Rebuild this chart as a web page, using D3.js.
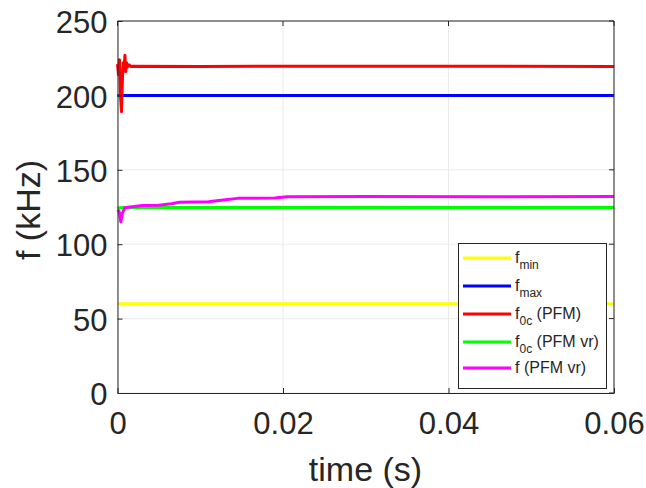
<!DOCTYPE html>
<html><head><meta charset="utf-8">
<script src="https://cdn.jsdelivr.net/npm/d3@7/dist/d3.min.js"></script>
<style>body{margin:0;background:#fff;}text{font-family:"Liberation Sans",Arial,sans-serif;}</style>
</head><body>
<svg id="c" width="646" height="488"></svg>
<script>
const xTicks = [0, 0.02, 0.04, 0.06];
const yTicks = [0, 50, 100, 150, 200, 250];
const fminT = [0, 0.06], fminV = [60, 60];
const fmaxT = [0, 0.06], fmaxV = [200, 200];
const f0cT = [0, 0.00012, 0.00024, 0.00036, 0.00048, 0.0006, 0.0007, 0.0008, 0.0009, 0.001, 0.0011, 0.0012, 0.0014, 0.0016, 0.002, 0.01, 0.03, 0.06];
const f0cV = [221, 214, 224, 200, 189, 212, 222, 218, 227, 216, 222, 219, 220.5, 219.5, 219.6, 219.5, 219.6, 219.5];
const f0cvrT = [0, 0.0003, 0.0008, 0.06];
const f0cvrV = [124, 124.5, 124.6, 124.6];
const fvrT = [0, 0.0002, 0.0004, 0.0006, 0.0009, 0.0015, 0.003, 0.005, 0.0065, 0.0075, 0.011, 0.0125, 0.0145, 0.019, 0.0205, 0.03, 0.045, 0.06];
const fvrV = [123, 122, 115, 121, 124.5, 125, 126, 126.2, 127.2, 128.2, 128.5, 129.5, 130.8, 131.0, 131.9, 132.0, 131.9, 132.0];

const series = [
  {t: fminT, v: fminV, color: "#ffff00", name: "f", sub: "min", rest: ""},
  {t: fmaxT, v: fmaxV, color: "#0000ff", name: "f", sub: "max", rest: ""},
  {t: f0cT, v: f0cV, color: "#ff0000", name: "f", sub: "0c", rest: " (PFM)"},
  {t: f0cvrT, v: f0cvrV, color: "#00ff00", name: "f", sub: "0c", rest: " (PFM vr)"},
  {t: fvrT, v: fvrV, color: "#ff00ff", name: "f (PFM vr)", sub: "", rest: ""}
];

const L = 117.5, R = 614, T = 21, B = 393;
const x = d3.scaleLinear().domain([0, 0.06]).range([L, R]);
const y = d3.scaleLinear().domain([0, 250]).range([B, T]);
const svg = d3.select("#c");

// grid
svg.append("g").selectAll("line").data(xTicks).join("line")
  .attr("x1", d => x(d)).attr("x2", d => x(d)).attr("y1", T).attr("y2", B)
  .attr("stroke", "#ebebeb").attr("stroke-width", 1);
svg.append("g").selectAll("line").data(yTicks).join("line")
  .attr("x1", L).attr("x2", R).attr("y1", d => y(d)).attr("y2", d => y(d))
  .attr("stroke", "#ebebeb").attr("stroke-width", 1);

// lines
const line = d3.line();
const order = [0, 1, 3, 2, 4];
order.forEach(i => {
  const s = series[i];
  svg.append("path")
    .attr("d", line(s.t.map((t, j) => [x(t), y(s.v[j])])))
    .attr("fill", "none").attr("stroke", s.color).attr("stroke-width", 3)
    .attr("stroke-linejoin", "round");
});

// axes box
const ax = "#262626";
const xa = svg.append("g").attr("transform", `translate(0,${B})`)
  .call(d3.axisBottom(x).tickValues(xTicks).tickFormat(d => d === 0 ? "0" : d3.format(".2f")(d)).tickSizeInner(-5).tickSizeOuter(0).tickPadding(19));
const ya = svg.append("g").attr("transform", `translate(${L},0)`)
  .call(d3.axisLeft(y).tickValues(yTicks).tickSizeInner(-5).tickSizeOuter(0).tickPadding(10));
[xa, ya].forEach(g => {
  g.select(".domain").attr("stroke", ax).attr("stroke-width", 1);
  g.selectAll(".tick line").attr("stroke", ax);
  g.selectAll(".tick text").attr("fill", ax).attr("font-size", 31).attr("font-family", "Liberation Sans, Arial, sans-serif");
});
xa.selectAll(".tick text").attr("dy", "0.71em");
ya.selectAll(".tick text").attr("dy", "0.38em");
// top and right border with ticks
svg.append("line").attr("x1", L).attr("x2", R).attr("y1", T).attr("y2", T).attr("stroke", ax);
svg.append("line").attr("x1", R).attr("x2", R).attr("y1", T).attr("y2", B).attr("stroke", ax);
svg.append("g").selectAll("line").data(xTicks).join("line")
  .attr("x1", d => x(d)).attr("x2", d => x(d)).attr("y1", T).attr("y2", T + 5).attr("stroke", ax);
svg.append("g").selectAll("line").data(yTicks).join("line")
  .attr("x1", R).attr("x2", R - 5).attr("y1", d => y(d)).attr("y2", d => y(d)).attr("stroke", ax);

// axis labels
svg.append("text").attr("x", 365.5).attr("y", 481).attr("text-anchor", "middle")
  .attr("font-size", 34).attr("fill", ax).text("time (s)");
svg.append("text").attr("transform", `translate(40,210) rotate(-90)`).attr("text-anchor", "middle")
  .attr("font-size", 34).attr("fill", ax).text("f (kHz)");

// legend
const lg = svg.append("g");
lg.append("rect").attr("x", 458.5).attr("y", 243.5).attr("width", 148).attr("height", 145)
  .attr("fill", "#fff").attr("stroke", ax).attr("stroke-width", 1);
const ly = [258, 286, 314, 342, 368];
series.forEach((s, i) => {
  lg.append("line").attr("x1", 463).attr("x2", 511).attr("y1", ly[i]).attr("y2", ly[i])
    .attr("stroke", s.color).attr("stroke-width", 3);
  const t = lg.append("text").attr("x", 515).attr("y", ly[i] + 5).attr("font-size", 16).attr("fill", ax);
  t.append("tspan").text(s.name);
  if (s.sub) {
    t.append("tspan").attr("font-size", 12).attr("dy", 6).text(s.sub);
    if (s.rest) t.append("tspan").attr("dy", -6).text(s.rest);
  }
});
</script>
</body></html>
